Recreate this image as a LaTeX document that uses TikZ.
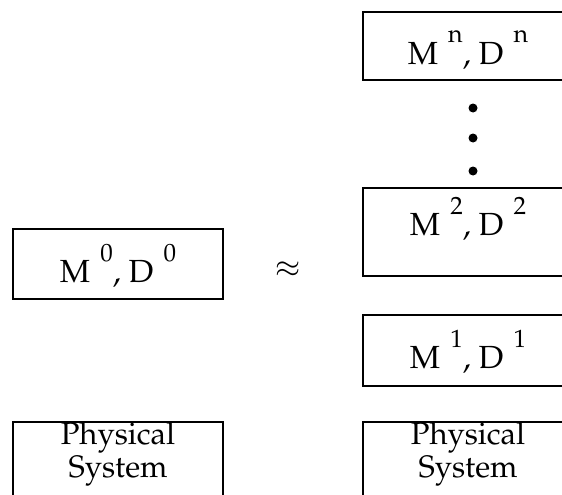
\documentclass[tikz,border=0pt]{standalone}
\usepackage[T1]{fontenc}
\usepackage{mathpazo}
\usetikzlibrary{positioning}

% raised, slightly smaller index after M and D
\newcommand{\hisup}[1]{\hspace{10pt}\raisebox{21pt}{\fontsize{25}{25}\selectfont #1}}
\newcommand{\MD}[1]{M\hisup{#1}, D\hisup{#1}}

\tikzset{
  mdbox/.style={draw, line width=1.7pt, minimum width=210pt, minimum height=#1,
    text height=42pt, text depth=6pt, inner sep=0pt, font=\fontsize{32}{34}\selectfont},
  sysbox/.style={draw, line width=1.7pt, minimum width=210pt, minimum height=100pt,
    anchor=north, inner sep=0pt},
  systext/.style={align=center, inner sep=1pt, font=\fontsize{31}{33}\selectfont},
  dot/.style={circle, fill, inner sep=0pt, minimum size=9pt}
}

\begin{document}
\begin{tikzpicture}[x=1pt,y=-1pt]
  \useasboundingbox (0,0) rectangle (562,495);
  \clip (0,0) rectangle (562,495);

  % single model
  \node[mdbox=70pt] (m0) at (118,264) {\MD{0}};
  \node[font=\fontsize{31}{33}\selectfont] (approx) at (288,270) {$\approx$};
  \node[sysbox] (sys0) at (118,421) {};
  \node[systext, below=0pt of sys0.north] (sys0txt) {Physical\\System};

  % stack of models
  \node[mdbox=68pt] (mn) at (468,46) {\MD{n}};
  \foreach \y [count=\i] in {108,138,171}
    \node[dot] (dot\i) at (473,\y) {};
  \node[mdbox=88pt, text depth=36pt] (m2) at (468,232) {\MD{2}};
  \node[mdbox=71pt] (m1) at (468,350.5) {\MD{1}};
  \node[sysbox] (sys1) at (468,421) {};
  \node[systext, below=0pt of sys1.north] (sys1txt) {Physical\\System};
\end{tikzpicture}
\end{document}
